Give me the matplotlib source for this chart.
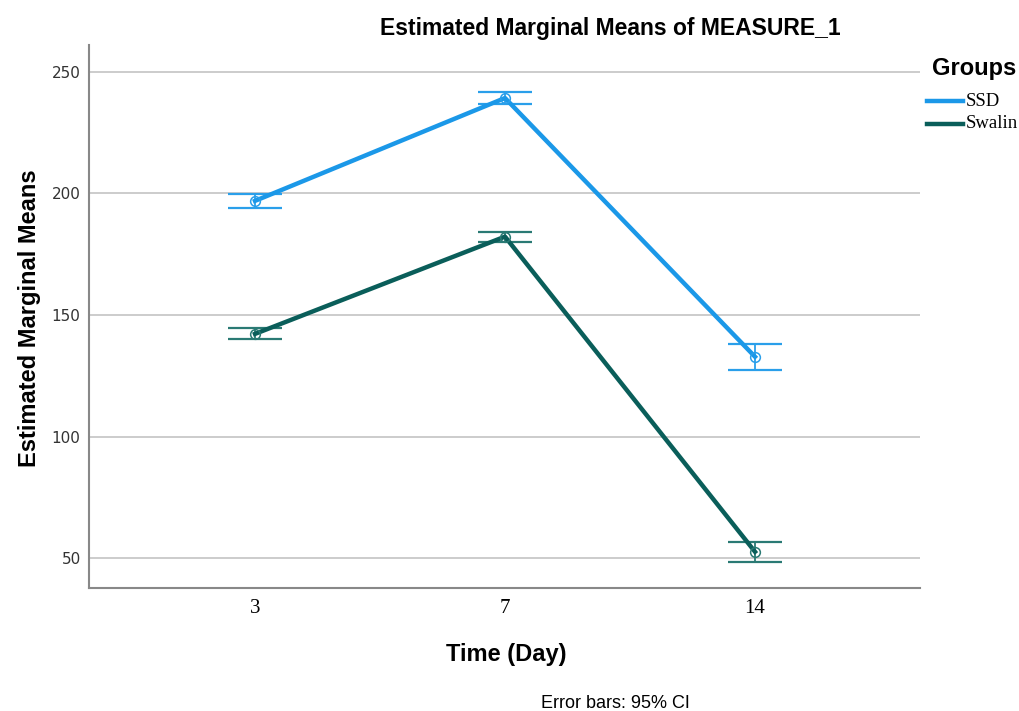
import matplotlib.pyplot as plt
from matplotlib.lines import Line2D

days = ["3", "7", "14"]
groups = ["SSD", "Swalin"]
ssd_mean = [196.9, 239.2, 132.8]
ssd_lo = [193.9, 236.7, 127.4]
ssd_hi = [199.7, 241.5, 137.9]
swalin_mean = [142.2, 182.2, 52.6]
swalin_lo = [140.0, 179.9, 48.2]
swalin_hi = [144.5, 184.0, 56.7]
colors = ["#1b98e8", "#0a5e5a"]
err_colors = ["#2a9fea", "#2a7a74"]

W, H = 1020, 711
fig = plt.figure(figsize=(W / 100, H / 100), dpi=100)
ax = fig.add_axes([89 / W, 1 - 588 / H, (920 - 89) / W, (588 - 45) / H])

x = list(range(len(days)))
series = [(ssd_mean, ssd_lo, ssd_hi), (swalin_mean, swalin_lo, swalin_hi)]
for (m, lo, hi), c, ec in zip(series, colors, err_colors):
    err = [[mi - l for mi, l in zip(m, lo)], [h - mi for mi, h in zip(m, hi)]]
    ax.errorbar(x, m, yerr=err, fmt="none", ecolor=ec, elinewidth=1.3,
                capsize=19.5, capthick=1.6, zorder=3)
    ax.plot(x, m, color=c, linewidth=3.2, zorder=4)
    ax.plot(x, m, linestyle="none", marker="o", markersize=7, markerfacecolor="none",
            markeredgecolor=ec, markeredgewidth=1.1, zorder=5)

ax.set_xlim(-0.664, 2.66)
ax.set_ylim(37.7, 261)
ax.set_yticks([50, 100, 150, 200, 250])
ax.set_xticks(x)
ax.set_xticklabels(days, fontfamily="Liberation Serif", fontsize=15)
for lab in ax.get_yticklabels():
    lab.set_fontfamily("DejaVu Sans")
    lab.set_fontsize(11)
    lab.set_color("#333333")
ax.tick_params(axis="y", length=0, pad=6)
ax.tick_params(axis="x", length=0, pad=8)
ax.grid(axis="y", color="#c8c8c8", linewidth=1.3)
ax.set_axisbelow(True)
for s in ["top", "right"]:
    ax.spines[s].set_visible(False)
for s in ["left", "bottom"]:
    ax.spines[s].set_color("#888888")
    ax.spines[s].set_linewidth(1.5)

fig.text(610 / W, 1 - 28 / H, "Estimated Marginal Means of MEASURE_1",
         ha="center", va="center", fontsize=16.5, fontweight="bold",
         fontfamily="Liberation Sans")
fig.text(506 / W, 1 - 655 / H, "Time (Day)", ha="center", va="center",
         fontsize=17, fontweight="bold", fontfamily="Liberation Sans")
fig.text(30 / W, 1 - 318 / H, "Estimated Marginal Means", ha="center", va="center",
         rotation=90, fontsize=17, fontweight="bold", fontfamily="Liberation Sans")
fig.text(615 / W, 1 - 703 / H, "Error bars: 95% CI", ha="center", va="center",
         fontsize=13, fontfamily="Liberation Sans")

# legend drawn by hand to match the SPSS layout
fig.text(974 / W, 1 - 68 / H, "Groups", ha="center", va="center",
         fontsize=17, fontweight="bold", fontfamily="Liberation Sans")
for i, (g, c) in enumerate(zip(groups, colors)):
    yy = 1 - (101 + i * 23) / H
    fig.add_artist(Line2D([927 / W, 963 / W], [yy, yy], color=c, linewidth=3.2))
    fig.text(966 / W, yy, g, ha="left", va="center", fontsize=13.5,
             fontfamily="Liberation Serif")

fig.savefig("out.png", dpi=100)
